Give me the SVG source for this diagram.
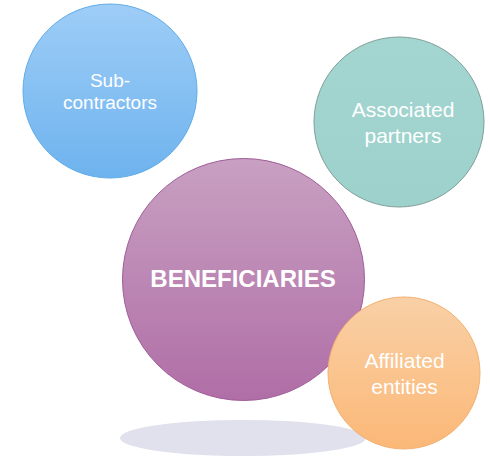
<svg xmlns="http://www.w3.org/2000/svg" width="490" height="458" viewBox="0 0 490 458">
<defs>
<linearGradient id="gBlue" x1="0" y1="0" x2="0" y2="1"><stop offset="0" stop-color="#9ecdf7"/><stop offset="1" stop-color="#6eb3ee"/></linearGradient>
<linearGradient id="gPurple" x1="0" y1="0" x2="0" y2="1"><stop offset="0" stop-color="#c8a0c2"/><stop offset="1" stop-color="#b06ea6"/></linearGradient>
<linearGradient id="gTeal" x1="0" y1="0" x2="0" y2="1"><stop offset="0" stop-color="#a4d6d1"/><stop offset="1" stop-color="#9dd1cb"/></linearGradient>
<linearGradient id="gOrange" x1="0" y1="0" x2="0" y2="1"><stop offset="0" stop-color="#f9d0a6"/><stop offset="1" stop-color="#fbb877"/></linearGradient>
<style>
.lbl{font-family:"Liberation Sans",Arial,sans-serif;fill:#ffffff;text-anchor:middle}
.sm{font-size:19px}
.md{font-size:21px}
.bg{font-size:24px;font-weight:bold}
</style>
</defs>
<rect width="490" height="458" fill="#ffffff"/>
<ellipse cx="243" cy="438" rx="123" ry="18" fill="#e0e1ec"/>
<g id="connectors"></g>
<g id="subcontractors">
<circle cx="110" cy="91" r="87" fill="url(#gBlue)" stroke="#5fabe8" stroke-width="1"/>
<text class="lbl sm" x="110" y="87">Sub-</text>
<text class="lbl sm" x="110" y="109">contractors</text>
</g>
<g id="associated">
<circle cx="399" cy="122" r="85" fill="url(#gTeal)" stroke="#7f9e9a" stroke-width="1"/>
<text class="lbl md" x="403" y="117">Associated</text>
<text class="lbl md" x="403" y="143">partners</text>
</g>
<g id="beneficiaries">
<circle cx="243.5" cy="279.5" r="121" fill="url(#gPurple)" stroke="#a05c98" stroke-width="1"/>
<text class="lbl bg" x="243" y="287">BENEFICIARIES</text>
</g>
<g id="affiliated">
<circle cx="404" cy="373" r="76" fill="url(#gOrange)" stroke="#f3b070" stroke-width="1"/>
<text class="lbl md" x="404.5" y="368">Affiliated</text>
<text class="lbl md" x="404.5" y="394">entities</text>
</g>
</svg>
